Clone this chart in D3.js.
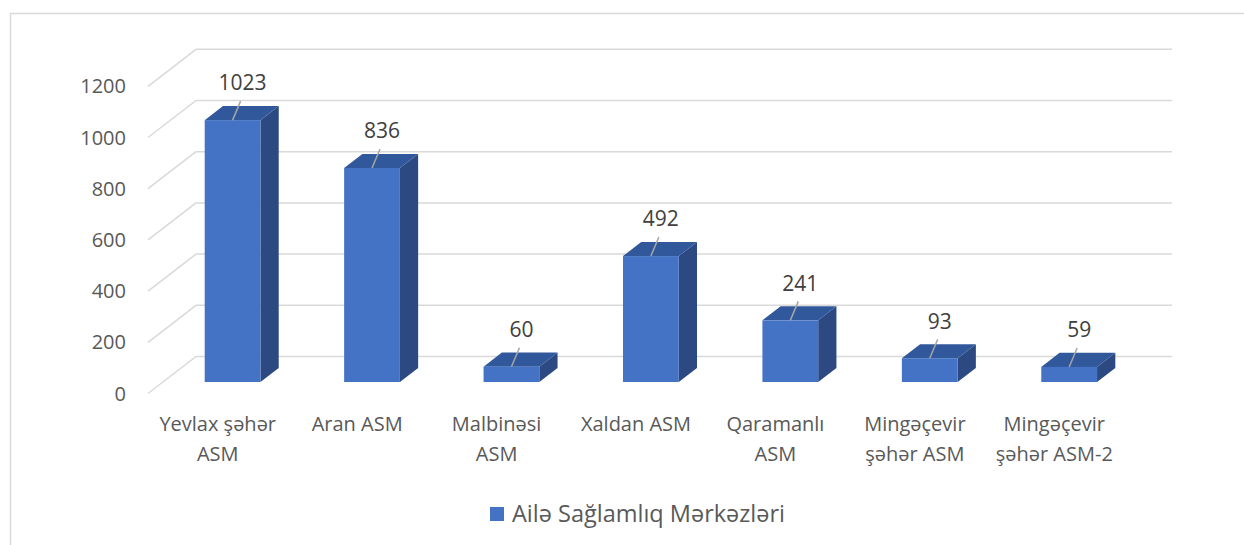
<!DOCTYPE html>
<html>
<head>
<meta charset="utf-8">
<script src="https://cdn.jsdelivr.net/npm/d3@7"></script>
<style>
  body { margin: 0; background: #fff; }
  text { font-family: "Open Sans", "Noto Sans", sans-serif; }
</style>
</head>
<body>
<div id="chart"></div>
<script>
// chart data
const categories = ["Yevlax şəhər ASM", "Aran ASM", "Malbinəsi ASM", "Xaldan ASM",
                    "Qaramanlı ASM", "Mingəçevir şəhər ASM", "Mingəçevir şəhər ASM-2"];
const values = [1023, 836, 60, 492, 241, 93, 59];
const yTicks = [0, 200, 400, 600, 800, 1000, 1200];
const seriesName = "Ailə Sağlamlıq Mərkəzləri";

const W = 1244, H = 545;
// 3d wall offset (front -> back)
const depthX = 48, depthY = -37;
// bars sit between these depth fractions
const z0 = 0.31, z1 = 0.69;

const svg = d3.select("#chart").append("svg")
  .attr("width", W).attr("height", H);

// outer chart border (runs off the picture right and bottom)
svg.append("rect")
  .attr("x", 10.5).attr("y", 13.5)
  .attr("width", W + 20).attr("height", H + 20)
  .attr("fill", "none").attr("stroke", "#d9d9d9").attr("stroke-width", 1.5);

const x = d3.scaleBand()
  .domain(categories)
  .range([148, 1124])
  .paddingInner(0.6)
  .paddingOuter(0.3);

const y = d3.scaleLinear()
  .domain([0, 1200])
  .range([393.5, 86.3]);

// gridlines: back wall + side wall diagonal
const grid = svg.append("g").attr("stroke", "#d9d9d9").attr("stroke-width", 1.5).attr("fill", "none");
yTicks.forEach(t => {
  grid.append("line")
    .attr("x1", 148 + depthX).attr("x2", 1124 + depthX)
    .attr("y1", y(t) + depthY).attr("y2", y(t) + depthY);
  grid.append("line")
    .attr("x1", 148).attr("x2", 148 + depthX)
    .attr("y1", y(t)).attr("y2", y(t) + depthY);
});

// y tick labels
svg.append("g").selectAll("text")
  .data(yTicks)
  .enter().append("text")
  .attr("x", 126)
  .attr("y", d => y(d))
  .attr("dy", "0.35em")
  .attr("text-anchor", "end")
  .attr("font-size", 20)
  .attr("fill", "#595959")
  .text(d => d);

// bars
const bw = x.bandwidth();
const ox = z0 * depthX, oy = z0 * depthY;
const dx = (z1 - z0) * depthX, dy = (z1 - z0) * depthY;

const bars = svg.append("g").selectAll("g")
  .data(categories.map((c, i) => ({ c, v: values[i] })))
  .enter().append("g");

bars.each(function(d) {
  const g = d3.select(this);
  const left = x(d.c) + ox;
  const bottom = y(0) + oy;
  const top = y(d.v) + oy;
  g.append("polygon")
    .attr("points", [[left + bw, top], [left + bw + dx, top + dy], [left + bw + dx, bottom + dy], [left + bw, bottom]].join(" "))
    .attr("fill", "#2c4a81");
  g.append("polygon")
    .attr("points", [[left, top], [left + bw, top], [left + bw + dx, top + dy], [left + dx, top + dy]].join(" "))
    .attr("fill", "#32589c");
  g.append("rect")
    .attr("x", left).attr("y", top)
    .attr("width", bw).attr("height", bottom - top)
    .attr("fill", "#4472c4");

  // data label + leader line
  const cx = left + bw / 2;
  g.append("line")
    .attr("x1", cx).attr("y1", top)
    .attr("x2", cx + 8).attr("y2", top - 19)
    .attr("stroke", "#a6a6a6").attr("stroke-width", 1.5);
  g.append("text")
    .attr("x", cx + 10)
    .attr("y", top - 37)
    .attr("dy", "0.35em")
    .attr("text-anchor", "middle")
    .attr("font-size", 21)
    .attr("fill", "#404040")
    .text(d.v);
});

// category labels, wrapped to band width
const maxW = 132;
const catG = svg.append("g");
categories.forEach(c => {
  const t = catG.append("text")
    .attr("x", x(c) + bw / 2)
    .attr("y", y(0) + 30)
    .attr("text-anchor", "middle")
    .attr("font-size", 20)
    .attr("fill", "#595959");
  const words = c.split(" ");
  let line = [];
  let ts = t.append("tspan").attr("x", x(c) + bw / 2).attr("dy", "0.35em");
  words.forEach(w => {
    line.push(w);
    ts.text(line.join(" "));
    if (ts.node().getComputedTextLength() > maxW && line.length > 1) {
      line.pop();
      ts.text(line.join(" "));
      line = [w];
      ts = t.append("tspan").attr("x", x(c) + bw / 2).attr("dy", "30px").text(w);
    }
  });
});

// legend
const legend = svg.append("g").attr("transform", "translate(490,507)");
legend.append("rect").attr("width", 14).attr("height", 14).attr("fill", "#4472c4");
legend.append("text")
  .attr("x", 22).attr("y", 7).attr("dy", "0.35em")
  .attr("font-size", 23.5)
  .attr("fill", "#595959")
  .text(seriesName);
</script>
</body>
</html>
